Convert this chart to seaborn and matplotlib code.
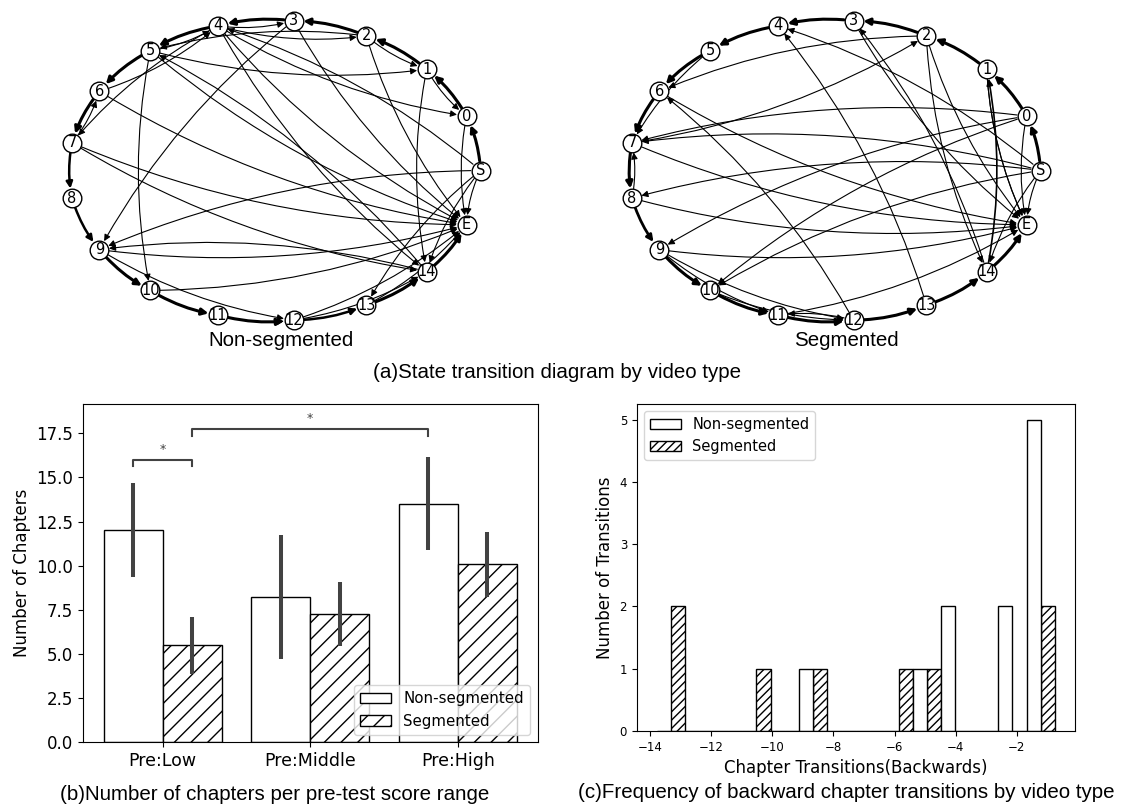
import numpy as np
import pandas as pd
import matplotlib
matplotlib.use("Agg")
import matplotlib.pyplot as plt
from matplotlib.patches import FancyArrowPatch, Patch
import seaborn as sns

# ---------------- data ----------------
NODE_ORDER = ["S"] + [str(i) for i in range(15)] + ["E"]

# Non-segmented transition graph (source, target, line width)
NS_SRC = ["S", "0", "1", "2", "3", "4", "5", "6", "7", "8", "9", "10", "11", "12", "13", "14",
          "1", "2", "4", "5", "7", "4", "6", "4", "5", "14", "14",
          "2", "3", "4", "5", "9", "1", "7", "4", "12", "11",
          "0", "2", "3", "4", "5", "6", "7", "9", "10", "12", "13",
          "S", "S", "S", "S", "S"]
NS_DST = ["0", "1", "2", "3", "4", "5", "6", "7", "8", "9", "10", "11", "12", "13", "14", "E",
          "0", "1", "3", "4", "6", "2", "4", "0", "1", "9", "5",
          "5", "9", "14", "10", "12", "14", "14", "7", "14", "12",
          "E", "E", "E", "E", "E", "E", "E", "E", "E", "E", "E",
          "E", "14", "13", "9", "4"]
NS_W = [2.2, 2.2, 2.2, 2.2, 2.2, 2.2, 2.2, 2.2, 1.8, 1.8, 2.2, 2.2, 2.2, 1.8, 2.2, 2.2,
        0.8, 0.8, 0.8, 0.8, 0.8, 0.8, 0.8, 0.8, 0.8, 0.8, 0.8,
        0.8, 0.8, 0.8, 0.8, 0.8, 0.8, 0.8, 0.8, 0.8, 0.8,
        0.8, 0.8, 0.8, 0.8, 0.8, 0.8, 0.8, 0.8, 0.8, 0.8, 0.8,
        0.8, 0.8, 0.8, 0.8, 0.8]

# Segmented transition graph
SG_SRC = ["S", "0", "1", "2", "3", "4", "5", "6", "7", "8", "9", "10", "11", "12", "13", "14",
          "14", "14", "13", "12", "7", "12", "8",
          "2", "5", "9", "0", "0", "S", "0", "S", "S", "S", "S", "9", "10", "2",
          "6", "9", "8", "7", "2", "1", "0", "S", "11", "3", "1"]
SG_DST = ["0", "1", "2", "3", "4", "5", "6", "7", "8", "9", "10", "11", "12", "13", "14", "E",
          "1", "3", "4", "6", "2", "11", "7",
          "6", "7", "12", "7", "9", "7", "10", "8", "4", "14", "10", "11", "12", "14",
          "E", "E", "E", "E", "E", "E", "E", "E", "E", "E", "E"]
SG_W = [2.2, 2.2, 2.2, 2.2, 2.2, 2.2, 2.2, 2.2, 2.2, 2.0, 2.2, 2.2, 2.2, 2.2, 2.2, 2.2,
        1.2, 0.8, 0.8, 0.8, 0.8, 0.8, 0.8,
        0.8, 0.8, 0.8, 0.8, 0.8, 0.8, 0.8, 0.8, 0.8, 0.8, 0.8, 0.8, 0.8, 0.8,
        0.8, 0.8, 0.8, 0.8, 0.8, 0.8, 0.8, 0.8, 0.8, 0.8, 0.8]

# (b) chapters per pre-test score range
GROUPS = ["Pre:Low", "Pre:Middle", "Pre:High"]
TYPES = ["Non-segmented", "Segmented"]
MEAN_NONSEG = [12.05, 8.22, 13.52]
MEAN_SEG = [5.5, 7.28, 10.08]
CI_LO_NONSEG = [9.38, 4.72, 10.89]
CI_HI_NONSEG = [14.70, 11.72, 16.14]
CI_LO_SEG = [3.87, 5.47, 8.25]
CI_HI_SEG = [7.08, 9.08, 11.91]
SIG_Y = [15.98, 17.72]

# (c) backward chapter transitions
BACK_NONSEG = [-9, -5, -4, -4, -2, -2, -1, -1, -1, -1, -1]
BACK_SEG = [-13, -13, -10.5, -9, -6, -5, -1, -1]

# ---------------- figure ----------------
W, H = 1121, 810
fig = plt.figure(figsize=(W / 100, H / 100), dpi=100)
CAP_FONT = ["Liberation Sans", "DejaVu Sans"]
CAP_SIZE = 14.8


def px_axes(x0, y0, x1, y1):
    return fig.add_axes([x0 / W, 1 - y1 / H, (x1 - x0) / W, (y1 - y0) / H])


def draw_graph(ax, src, dst, wts):
    n = len(NODE_ORDER)
    cx, cy, rx, ry = 274.5, 170.5, 206.0, 150.3
    ang = 2 * np.pi * np.arange(n) / n
    pos = {nd: (cx + rx * np.cos(a), cy - ry * np.sin(a)) for nd, a in zip(NODE_ORDER, ang)}
    for s, d, w in zip(src, dst, wts):
        arr = FancyArrowPatch(pos[s], pos[d], arrowstyle="-|>", mutation_scale=9.5,
                              connectionstyle="arc3,rad=0.1", lw=w, color="black",
                              shrinkA=7, shrinkB=7, zorder=1)
        ax.add_patch(arr)
    nd_df = pd.DataFrame({"x": [pos[k][0] for k in NODE_ORDER],
                          "y": [pos[k][1] for k in NODE_ORDER]})
    sns.scatterplot(data=nd_df, x="x", y="y", s=180, color="white", edgecolor="black",
                    linewidth=1.0, ax=ax, zorder=3, legend=False)
    for k in NODE_ORDER:
        ax.text(pos[k][0], pos[k][1], k, ha="center", va="center", fontsize=10.5, zorder=4)
    ax.set_xlim(0, 560)
    ax.set_ylim(360, 0)
    ax.axis("off")


ax_a1 = px_axes(0, 0, 560, 360)
draw_graph(ax_a1, NS_SRC, NS_DST, NS_W)
ax_a2 = px_axes(560, 0, 1120, 360)
draw_graph(ax_a2, SG_SRC, SG_DST, SG_W)

fig.text(281 / W, 1 - 341 / H, "Non-segmented", ha="center", va="center", fontsize=CAP_SIZE, family=CAP_FONT)
fig.text(846 / W, 1 - 341 / H, "Segmented", ha="center", va="center", fontsize=CAP_SIZE, family=CAP_FONT)
fig.text(557 / W, 1 - 372 / H, "(a)State transition diagram by video type", ha="center", va="center",
         fontsize=CAP_SIZE, family=CAP_FONT)

# ---------------- (b) bar chart ----------------
ax_b = px_axes(83, 404, 537.5, 742.3)
df_b = pd.DataFrame({
    "group": GROUPS * 2,
    "type": [TYPES[0]] * 3 + [TYPES[1]] * 3,
    "value": MEAN_NONSEG + MEAN_SEG,
})
sns.barplot(data=df_b, x="group", y="value", hue="type", hue_order=TYPES, order=GROUPS,
            palette={TYPES[0]: "white", TYPES[1]: "white"}, saturation=1,
            edgecolor="black", linewidth=1.0, errorbar=None, ax=ax_b, legend=False)
los = [CI_LO_NONSEG, CI_LO_SEG]
his = [CI_HI_NONSEG, CI_HI_SEG]
centers = []
for i, cont in enumerate(ax_b.containers):
    cs = []
    for j, bar in enumerate(cont.patches):
        xc = bar.get_x() + bar.get_width() / 2
        cs.append(xc)
        if i == 1:
            bar.set_hatch("//")
        ax_b.plot([xc, xc], [los[i][j], his[i][j]], color="#424242", lw=2.9,
                  solid_capstyle="butt", zorder=5)
    centers.append(cs)

drop = 0.35
pairs = [(centers[0][0], centers[1][0]), (centers[1][0], centers[0][2])]
for (xa, xb), yb in zip(pairs, SIG_Y):
    ax_b.plot([xa, xa, xb, xb], [yb - drop, yb, yb, yb - drop], color="#424242", lw=1.5, zorder=6)
    ax_b.text((xa + xb) / 2, yb + 0.25, "*", ha="center", va="bottom", fontsize=9, color="#424242")

ax_b.set_xlim(-0.54, 2.54)
ax_b.set_ylim(0, 19.16)
ax_b.set_xlabel("")
ax_b.set_ylabel("Number of Chapters", fontsize=12)
ax_b.tick_params(axis="both", labelsize=12)
for t in ax_b.get_xticklabels():
    t.set_fontsize(12.5)
ax_b.legend(handles=[Patch(facecolor="white", edgecolor="black", label=TYPES[0]),
                     Patch(facecolor="white", edgecolor="black", hatch="//", label=TYPES[1])],
            loc="lower right", fontsize=10.8, handlelength=2.1)
fig.text(275 / W, 1 - 795 / H, "(b)Number of chapters per pre-test score range", ha="center",
         va="center", fontsize=CAP_SIZE, family=CAP_FONT)

# ---------------- (c) histogram ----------------
ax_c = px_axes(636.8, 404, 1075, 731)
df_c = pd.DataFrame({
    "transition": BACK_NONSEG + BACK_SEG,
    "type": [TYPES[0]] * len(BACK_NONSEG) + [TYPES[1]] * len(BACK_SEG),
})
sns.histplot(data=df_c, x="transition", hue="type", hue_order=TYPES, multiple="dodge",
             bins=14, binrange=(-13.78, -0.75), shrink=1,
             palette={TYPES[0]: "white", TYPES[1]: "white"}, alpha=1,
             edgecolor="black", linewidth=1.0, ax=ax_c, legend=False)
# hatch the Segmented bars (the right-hand bar of each dodged pair)
conts = sorted(ax_c.containers, key=lambda c: np.mean([p.get_x() for p in c.patches]))
for p in conts[1].patches:
    p.set_hatch("////")
ax_c.set_xlabel("Chapter Transitions(Backwards)", fontsize=12)
ax_c.set_ylabel("Number of Transitions", fontsize=12)
ax_c.tick_params(axis="both", labelsize=8.5)
ax_c.legend(handles=[Patch(facecolor="white", edgecolor="black", label=TYPES[0]),
                     Patch(facecolor="white", edgecolor="black", hatch="////", label=TYPES[1])],
            loc="upper left", fontsize=10.5, handlelength=2.1)
fig.text(846 / W, 1 - 793 / H, "(c)Frequency of backward chapter transitions by video type",
         ha="center", va="center", fontsize=CAP_SIZE, family=CAP_FONT)

fig.savefig("out.png", dpi=100)
